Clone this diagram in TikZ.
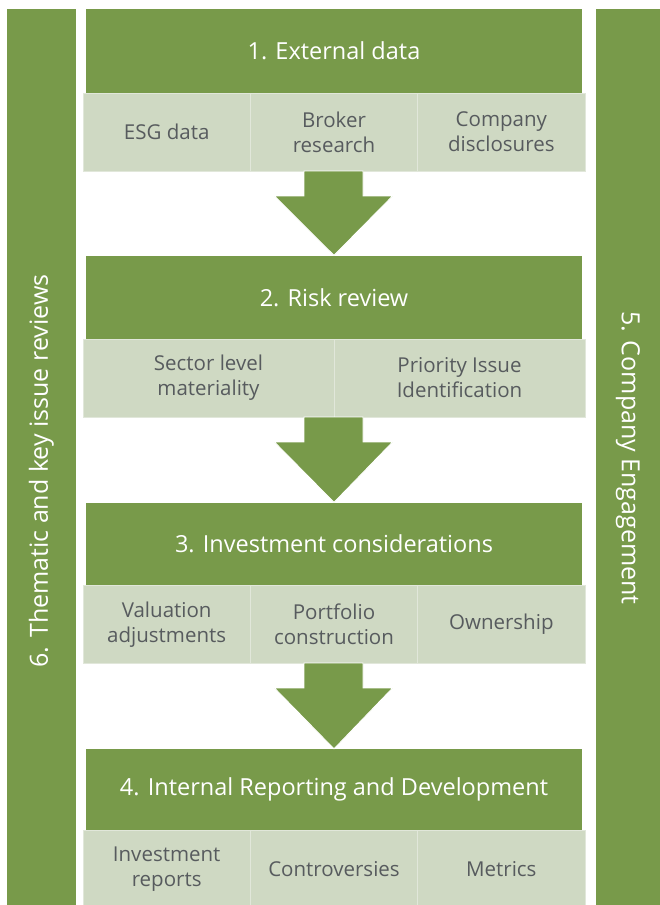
\documentclass[tikz,border=0pt]{standalone}
\usepackage{fontspec}
\setmainfont{Open Sans}
\usetikzlibrary{calc}
\definecolor{leaf}{HTML}{789A4A}
\definecolor{sage}{HTML}{CFD9C3}
\definecolor{sageline}{HTML}{E1E7DA}
\definecolor{ink}{HTML}{575B5E}
\tikzset{
  sidebar/.style={fill=leaf, text=white, inner sep=0pt, font=\fontsize{25}{30}\selectfont},
  header/.style={fill=leaf, text=white, inner sep=0pt, minimum width=496pt,
                 font=\fontsize{23.5}{28}\selectfont},
  cell/.style={fill=sage, draw=sageline, line width=1pt, text=ink, inner sep=0pt,
               align=center, minimum height=78pt, font=\fontsize{20.5}{25}\selectfont},
  third/.style={cell, minimum width=167.33pt},
  half/.style={cell, minimum width=251pt},
  flow/.style={fill=leaf, draw=white, line width=0.8pt, line join=miter}
}
% block arrow from the bottom of a row of cells to the top of the next header
\newcommand{\flowarrow}[2]{%
  \path[flow] ($(#1.south)+(-29.5,0)$) -- ($(#1.south)+(29.5,0)$)
    -- ($(#1.south)+(29.5,25)$) -- ($(#1.south)+(59,25)$)
    -- (#2.north) -- ($(#1.south)+(-59,25)$)
    -- ($(#1.south)+(-29.5,25)$) -- cycle;}
\begin{document}
\begin{tikzpicture}[x=1pt, y=-1pt]
\useasboundingbox (0,0) rectangle (660,905);
\clip (0,0) rectangle (660,905);

% side bars (width runs along the rotated text)
\node[sidebar, minimum width=924pt, minimum height=69pt, rotate=90] (review)
  at (41.5,471) {6. Thematic and key issue reviews};
\node[sidebar, minimum width=898pt, minimum height=64pt, rotate=-90] (engage)
  at (628,458) {5. Company Engagement};

% 1. External data
\node[header, minimum height=84pt] (h1) at (334,51) {1. External data};
\node[third] (c11) at (166.67,132) {ESG data};
\node[third] (c12) at (334,132) {Broker\\research};
\node[third] (c13) at (501.33,132) {Company\\disclosures};
\coordinate (s1) at (333.5,171);

% 2. Risk review
\node[header, minimum height=83.5pt] (h2) at (334,297.25) {2. Risk review};
\node[half] (c21) at (208.5,378) {Sector level\\materiality};
\node[half] (c22) at (459.5,378) {Priority Issue\\Identification};
\coordinate (s2) at (333.5,417);

% 3. Investment considerations
\node[header, minimum height=83pt] (h3) at (334,544) {3. Investment considerations};
\node[third] (c31) at (166.67,624.25) {Valuation\\adjustments};
\node[third] (c32) at (334,624.25) {Portfolio\\construction};
\node[third] (c33) at (501.33,624.25) {Ownership};
\coordinate (s3) at (333.5,663);

% 4. Internal Reporting and Development
\node[header, minimum height=81pt] (h4) at (334,789.5) {4. Internal Reporting and Development};
\node[third] (c41) at (166.67,869) {Investment\\reports};
\node[third] (c42) at (334,869) {Controversies};
\node[third] (c43) at (501.33,869) {Metrics};

% arrows between stages
\flowarrow{s1}{h2}
\flowarrow{s2}{h3}
\flowarrow{s3}{h4}
\end{tikzpicture}
\end{document}
